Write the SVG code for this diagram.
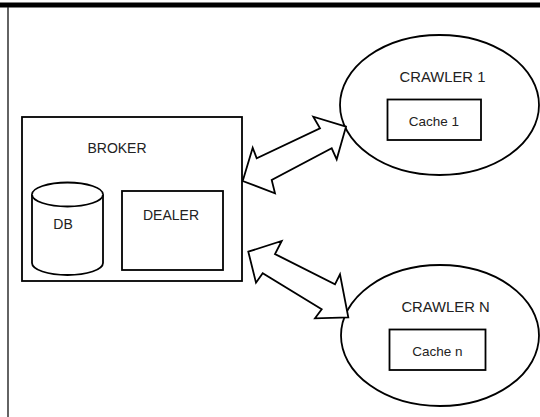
<svg xmlns="http://www.w3.org/2000/svg" width="540" height="417" viewBox="0 0 540 417">
<style>
.s{fill:#fff;stroke:#000;stroke-width:1.8}
.t{font-family:"Liberation Sans",Arial,sans-serif;fill:#222}
</style>
<rect x="0" y="0" width="540" height="417" fill="#fff"/>
<rect x="0" y="2.5" width="540" height="5" fill="#000"/>
<line x1="8" y1="7" x2="8" y2="417" stroke="#222" stroke-width="1.4"/>
<g id="broker">
<rect class="s" x="22" y="117" width="220" height="164"/>
<text class="t" x="117" y="153" font-size="14" text-anchor="middle">BROKER</text>
</g>
<g id="db">
<path class="s" d="M32,194.5 L32,263 A35.5,12 0 0 0 103,263 L103,194.5 A35.5,12 0 0 0 32,194.5 Z"/>
<path class="s" fill="none" d="M32,194.5 A35.5,12 0 0 0 103,194.5"/>
<text class="t" x="63" y="229" font-size="14" text-anchor="middle">DB</text>
</g>
<g id="dealer">
<rect class="s" x="122" y="191" width="101" height="79"/>
<text class="t" x="171" y="220" font-size="14" text-anchor="middle">DEALER</text>
</g>
<g id="crawler1">
<ellipse class="s" cx="439.5" cy="105" rx="99.5" ry="70"/>
<text class="t" x="442.5" y="82" font-size="14.8" text-anchor="middle">CRAWLER 1</text>
<rect class="s" x="387.5" y="99.5" width="93.5" height="40.5"/>
<text class="t" x="434" y="126" font-size="13.5" text-anchor="middle">Cache 1</text>
</g>
<g id="crawlerN">
<ellipse class="s" cx="440" cy="335.5" rx="99" ry="70.5"/>
<text class="t" x="445.5" y="312" font-size="14.8" text-anchor="middle">CRAWLER N</text>
<rect class="s" x="389.5" y="329.5" width="96" height="40.5"/>
<text class="t" x="437.3" y="356" font-size="13.5" text-anchor="middle">Cache n</text>
</g>
<g id="connectors">
<polygon class="s" stroke-width="1.6" points="242.7,181 252.7,147.7 256.7,158.3 320,128.3 313.3,116.7 346,126.7 336.7,159.3 331.7,148.3 271.7,180 275,193.3"/>
<polygon class="s" stroke-width="1.6" points="248.3,251.7 281.7,241 275,254 335,284.3 340,274.3 348.3,317.3 315,318.3 321.7,309.3 262.7,273.3 256,282.7"/>
</g>
</svg>
